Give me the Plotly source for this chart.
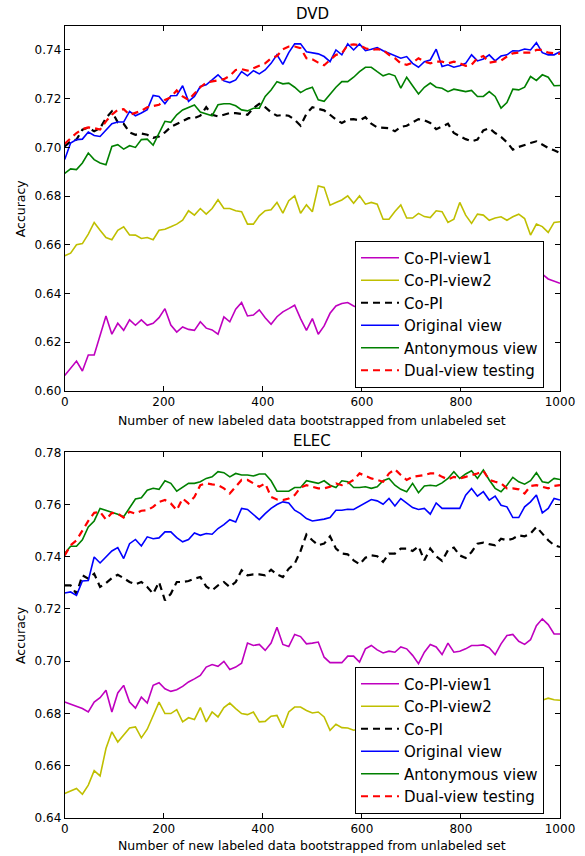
import plotly.graph_objects as go

W, H = 585, 856
x_vals = [round(i * 1000 / 84, 3) for i in range(85)]

series_names = ["Co-PI-view1", "Co-PI-view2", "Co-PI", "Original view", "Antonymous view", "Dual-view testing"]
x_ticks = [0, 200, 400, 600, 800, 1000]

dvd_view1 = [0.6064, 0.6093, 0.6123, 0.6082, 0.6148, 0.6148, 0.6226, 0.6308, 0.6233, 0.6278,
             0.6249, 0.6292, 0.6270, 0.6292, 0.6270, 0.6278, 0.6301, 0.6338, 0.6271, 0.6242,
             0.6263, 0.6253, 0.6249, 0.6284, 0.6258, 0.6251, 0.6233, 0.6304, 0.6284, 0.6336,
             0.6363, 0.6308, 0.6312, 0.6333, 0.6301, 0.6274, 0.6305, 0.6325, 0.6338, 0.6352,
             0.6297, 0.6249, 0.6297, 0.6233, 0.6267, 0.6319, 0.6349, 0.6359, 0.6363, 0.6349,
             0.634, 0.636, 0.633, 0.637, 0.635, 0.638, 0.636, 0.639, 0.637, 0.640,
             0.638, 0.641, 0.639, 0.637, 0.640, 0.642, 0.640, 0.643, 0.641, 0.639,
             0.642, 0.644, 0.642, 0.640, 0.643, 0.645, 0.643, 0.646, 0.644, 0.647,
             0.645, 0.648, 0.646, 0.6452, 0.6442]
dvd_view2 = [0.6555, 0.6566, 0.6600, 0.6605, 0.6644, 0.6692, 0.6660, 0.6630, 0.6621, 0.6660,
             0.6674, 0.6641, 0.6640, 0.6626, 0.6630, 0.6621, 0.6660, 0.6664, 0.6674, 0.6685,
             0.6701, 0.6740, 0.6722, 0.6749, 0.6726, 0.6749, 0.6785, 0.6749, 0.6749, 0.6740,
             0.6736, 0.6685, 0.6685, 0.6719, 0.6740, 0.6744, 0.6774, 0.6730, 0.6781, 0.6801,
             0.6730, 0.6764, 0.6736, 0.6842, 0.6836, 0.6763, 0.6774, 0.6784, 0.6801, 0.6771,
             0.6801, 0.6767, 0.6774, 0.6767, 0.6705, 0.6705, 0.6737, 0.6764, 0.6710, 0.6710,
             0.6729, 0.6716, 0.6712, 0.6740, 0.6736, 0.6692, 0.6705, 0.6774, 0.6722, 0.6688,
             0.6726, 0.6722, 0.6701, 0.6710, 0.6715, 0.6701, 0.6715, 0.6726, 0.6708, 0.6640,
             0.6685, 0.6675, 0.6651, 0.6692, 0.6695]
dvd_copi = [0.7004, 0.7025, 0.7032, 0.7073, 0.7082, 0.7066, 0.7079, 0.7120, 0.7148, 0.7103,
            0.7097, 0.7062, 0.7052, 0.7057, 0.7052, 0.7039, 0.7045, 0.7062, 0.7084, 0.7097,
            0.7107, 0.7120, 0.7120, 0.7130, 0.7165, 0.7134, 0.7127, 0.7134, 0.7141, 0.7141,
            0.7138, 0.7134, 0.7161, 0.7179, 0.7165, 0.7144, 0.7130, 0.7133, 0.7130, 0.7114,
            0.7089, 0.7138, 0.7165, 0.7157, 0.7152, 0.7134, 0.7114, 0.7100, 0.7114, 0.7116,
            0.7111, 0.7124, 0.7097, 0.7082, 0.7079, 0.7079, 0.7066, 0.7084, 0.7089, 0.7103,
            0.7116, 0.7111, 0.7100, 0.7075, 0.7086, 0.7097, 0.7059, 0.7045, 0.7034, 0.7025,
            0.7032, 0.7070, 0.7079, 0.7059, 0.7043, 0.7021, 0.6991, 0.7002, 0.7011, 0.7018,
            0.7025, 0.7011, 0.6998, 0.6988, 0.6977]
dvd_orig = [0.6950, 0.7018, 0.7032, 0.7034, 0.7063, 0.7049, 0.7045, 0.7073, 0.7097, 0.7104,
            0.7104, 0.7148, 0.7130, 0.7141, 0.7155, 0.7213, 0.7209, 0.7179, 0.7212, 0.7213,
            0.7253, 0.7189, 0.7209, 0.7250, 0.7257, 0.7277, 0.7298, 0.7273, 0.7266, 0.7277,
            0.7311, 0.7294, 0.7315, 0.7302, 0.7318, 0.7345, 0.7380, 0.7341, 0.7389, 0.7425,
            0.7425, 0.7393, 0.7389, 0.7384, 0.7373, 0.7352, 0.7400, 0.7380, 0.7425, 0.7400,
            0.7425, 0.7397, 0.7403, 0.7410, 0.7397, 0.7386, 0.7375, 0.7366, 0.7373, 0.7345,
            0.7329, 0.7352, 0.7359, 0.7403, 0.7332, 0.7339, 0.7329, 0.7335, 0.7345, 0.7380,
            0.7355, 0.7363, 0.7380, 0.7355, 0.7375, 0.7380, 0.7397, 0.7396, 0.7404, 0.7400,
            0.7430, 0.7389, 0.7380, 0.7380, 0.7393]
dvd_anto = [0.6893, 0.6912, 0.6909, 0.6936, 0.6977, 0.6950, 0.6936, 0.6929, 0.7004, 0.7011,
            0.6993, 0.7007, 0.7000, 0.7032, 0.7034, 0.7009, 0.7059, 0.7107, 0.7103, 0.7134,
            0.7154, 0.7164, 0.7174, 0.7145, 0.7137, 0.7130, 0.7175, 0.7179, 0.7179, 0.7171,
            0.7154, 0.7150, 0.7161, 0.7161, 0.7209, 0.7236, 0.7270, 0.7261, 0.7264, 0.7247,
            0.7225, 0.7239, 0.7247, 0.7195, 0.7189, 0.7219, 0.7247, 0.7270, 0.7270, 0.7288,
            0.7311, 0.7329, 0.7329, 0.7311, 0.7294, 0.7302, 0.7294, 0.7243, 0.7288, 0.7253,
            0.7219, 0.7247, 0.7264, 0.7247, 0.7243, 0.7229, 0.7239, 0.7234, 0.7229, 0.7234,
            0.7209, 0.7209, 0.7229, 0.7209, 0.7161, 0.7184, 0.7239, 0.7236, 0.7247, 0.7291,
            0.7275, 0.7298, 0.7288, 0.7253, 0.7254]
dvd_dual = [0.7015, 0.7039, 0.7059, 0.7075, 0.7082, 0.7079, 0.7073, 0.7107, 0.7134, 0.7154,
            0.7157, 0.7134, 0.7141, 0.7150, 0.7165, 0.7171, 0.7175, 0.7195, 0.7206, 0.7234,
            0.7209, 0.7195, 0.7220, 0.7247, 0.7266, 0.7270, 0.7273, 0.7280, 0.7294, 0.7318,
            0.7321, 0.7315, 0.7325, 0.7335, 0.7345, 0.7366, 0.7375, 0.7403, 0.7414, 0.7414,
            0.7407, 0.7366, 0.7362, 0.7348, 0.7337, 0.7359, 0.7380, 0.7386, 0.7420, 0.7423,
            0.7420, 0.7407, 0.7400, 0.7403, 0.7400, 0.7380, 0.7366, 0.7345, 0.7339, 0.7348,
            0.7366, 0.7352, 0.7345, 0.7352, 0.7352, 0.7345, 0.7352, 0.7345, 0.7335, 0.7339,
            0.7366, 0.7375, 0.7348, 0.7352, 0.7356, 0.7373, 0.7386, 0.7389, 0.7389, 0.7389,
            0.7400, 0.7400, 0.7389, 0.7386, 0.7384]

elec_view1 = [0.6843, 0.6834, 0.6824, 0.6818, 0.6805, 0.6843, 0.6860, 0.6888, 0.6805, 0.6878,
              0.6907, 0.6843, 0.6820, 0.6862, 0.6839, 0.6907, 0.6917, 0.6894, 0.6884, 0.6890,
              0.6903, 0.6920, 0.6932, 0.6945, 0.6977, 0.6987, 0.6980, 0.6999, 0.6968, 0.6977,
              0.6992, 0.7069, 0.7060, 0.7064, 0.7041, 0.7069, 0.7130, 0.7064, 0.7056, 0.7102,
              0.7094, 0.7066, 0.7069, 0.7073, 0.7015, 0.6994, 0.6994, 0.6994, 0.7019, 0.7019,
              0.6996, 0.7047, 0.7060, 0.7043, 0.7031, 0.7038, 0.7034, 0.7054, 0.7047, 0.7022,
              0.6990, 0.7034, 0.7064, 0.7054, 0.7025, 0.7069, 0.7034, 0.7038, 0.7047, 0.7060,
              0.7060, 0.7062, 0.7051, 0.7025, 0.7066, 0.7098, 0.7102, 0.7076, 0.7064, 0.7082,
              0.7136, 0.7162, 0.7140, 0.7104, 0.7104]
elec_view2 = [0.6493, 0.6503, 0.6512, 0.6490, 0.6525, 0.6580, 0.6560, 0.6665, 0.6729, 0.6690,
              0.6716, 0.6744, 0.6748, 0.6706, 0.6739, 0.6792, 0.6843, 0.6799, 0.6799, 0.6814,
              0.6767, 0.6783, 0.6776, 0.6822, 0.6767, 0.6805, 0.6786, 0.6822, 0.6839, 0.6818,
              0.6799, 0.6795, 0.6805, 0.6767, 0.6769, 0.6789, 0.6792, 0.6745, 0.6805, 0.6824,
              0.6824, 0.6811, 0.6801, 0.6805, 0.6786, 0.6735, 0.6758, 0.6745, 0.6744, 0.6735,
              0.6740, 0.6752, 0.6745, 0.6760, 0.6772, 0.6765, 0.6780, 0.6770, 0.6785, 0.6795,
              0.6780, 0.6790, 0.6805, 0.6798, 0.6810, 0.6800, 0.6815, 0.6825, 0.6812, 0.6820,
              0.6832, 0.6825, 0.6838, 0.6830, 0.6842, 0.6835, 0.6848, 0.6840, 0.6852, 0.6845,
              0.6855, 0.6850, 0.6858, 0.6852, 0.6850]
elec_copi = [0.7290, 0.7290, 0.7258, 0.7329, 0.7316, 0.7335, 0.7284, 0.7299, 0.7318, 0.7331,
             0.7318, 0.7303, 0.7294, 0.7303, 0.7284, 0.7258, 0.7303, 0.7233, 0.7258, 0.7303,
             0.7303, 0.7307, 0.7316, 0.7322, 0.7286, 0.7271, 0.7290, 0.7303, 0.7284, 0.7303,
             0.7348, 0.7329, 0.7332, 0.7332, 0.7329, 0.7350, 0.7332, 0.7322, 0.7354, 0.7373,
             0.7422, 0.7485, 0.7463, 0.7444, 0.7450, 0.7478, 0.7431, 0.7412, 0.7409, 0.7386,
             0.7371, 0.7396, 0.7405, 0.7402, 0.7380, 0.7412, 0.7412, 0.7431, 0.7431, 0.7422,
             0.7440, 0.7386, 0.7431, 0.7402, 0.7384, 0.7425, 0.7435, 0.7405, 0.7395, 0.7418,
             0.7450, 0.7454, 0.7448, 0.7444, 0.7469, 0.7463, 0.7469, 0.7482, 0.7478, 0.7489,
             0.7514, 0.7489, 0.7463, 0.7444, 0.7437]
elec_orig = [0.7261, 0.7265, 0.7252, 0.7307, 0.7309, 0.7399, 0.7376, 0.7399, 0.7422, 0.7435,
             0.7393, 0.7450, 0.7466, 0.7441, 0.7476, 0.7469, 0.7472, 0.7495, 0.7495, 0.7473,
             0.7457, 0.7466, 0.7491, 0.7482, 0.7489, 0.7486, 0.7508, 0.7523, 0.7542, 0.7533,
             0.7585, 0.7581, 0.7563, 0.7542, 0.7565, 0.7585, 0.7600, 0.7610, 0.7606, 0.7578,
             0.7565, 0.7546, 0.7537, 0.7540, 0.7544, 0.7550, 0.7578, 0.7578, 0.7582, 0.7581,
             0.7594, 0.7606, 0.7619, 0.7614, 0.7601, 0.7623, 0.7594, 0.7623, 0.7604, 0.7588,
             0.7581, 0.7585, 0.7563, 0.7606, 0.7585, 0.7585, 0.7585, 0.7585, 0.7636, 0.7661,
             0.7632, 0.7649, 0.7617, 0.7632, 0.7597, 0.7591, 0.7550, 0.7550, 0.7591, 0.7610,
             0.7636, 0.7568, 0.7585, 0.7623, 0.7617]
elec_anto = [0.7412, 0.7440, 0.7440, 0.7465, 0.7514, 0.7537, 0.7585, 0.7578, 0.7572, 0.7563,
             0.7553, 0.7585, 0.7621, 0.7626, 0.7655, 0.7662, 0.7658, 0.7691, 0.7681, 0.7651,
             0.7665, 0.7681, 0.7681, 0.7687, 0.7700, 0.7706, 0.7726, 0.7722, 0.7706, 0.7719,
             0.7713, 0.7713, 0.7709, 0.7717, 0.7717, 0.7691, 0.7651, 0.7651, 0.7651, 0.7665,
             0.7665, 0.7691, 0.7685, 0.7681, 0.7691, 0.7674, 0.7665, 0.7691, 0.7687, 0.7665,
             0.7665, 0.7668, 0.7662, 0.7668, 0.7691, 0.7700, 0.7674, 0.7658, 0.7649, 0.7681,
             0.7645, 0.7671, 0.7674, 0.7671, 0.7683, 0.7700, 0.7726, 0.7700, 0.7717, 0.7729,
             0.7700, 0.7732, 0.7694, 0.7662, 0.7649, 0.7674, 0.7704, 0.7687, 0.7678, 0.7691,
             0.7722, 0.7687, 0.7683, 0.7700, 0.7696]
elec_dual = [0.7405, 0.7444, 0.7463, 0.7501, 0.7537, 0.7568, 0.7572, 0.7542, 0.7568, 0.7565,
             0.7550, 0.7572, 0.7565, 0.7576, 0.7578, 0.7591, 0.7610, 0.7617, 0.7604, 0.7578,
             0.7623, 0.7604, 0.7629, 0.7674, 0.7681, 0.7677, 0.7674, 0.7662, 0.7642, 0.7668,
             0.7694, 0.7694, 0.7681, 0.7668, 0.7681, 0.7629, 0.7619, 0.7617, 0.7623, 0.7636,
             0.7665, 0.7674, 0.7668, 0.7662, 0.7662, 0.7668, 0.7681, 0.7674, 0.7681, 0.7694,
             0.7719, 0.7709, 0.7700, 0.7694, 0.7687, 0.7719, 0.7735, 0.7713, 0.7694, 0.7706,
             0.7709, 0.7713, 0.7719, 0.7719, 0.7706, 0.7696, 0.7706, 0.7700, 0.7706, 0.7713,
             0.7719, 0.7729, 0.7694, 0.7687, 0.7681, 0.7662, 0.7662, 0.7658, 0.7642, 0.7671,
             0.7674, 0.7668, 0.7662, 0.7671, 0.7674]

colors = ["#BF00BF", "#BFBF00", "#000000", "#0000FF", "#008000", "#FF0000"]
dashes = ["solid", "solid", "7px,5px", "solid", "solid", "7px,5px"]
widths = [1.6, 1.6, 2.2, 1.6, 1.6, 2.2]

FONT = "DejaVu Sans"
fig = go.Figure()

panels = [
    ("DVD", [dvd_view1, dvd_view2, dvd_copi, dvd_orig, dvd_anto, dvd_dual], "x", "y", "legend"),
    ("ELEC", [elec_view1, elec_view2, elec_copi, elec_orig, elec_anto, elec_dual], "x2", "y2", "legend2"),
]
for title, data, xa, ya, lg in panels:
    for name, ys, c, d, w in zip(series_names, data, colors, dashes, widths):
        fig.add_trace(go.Scatter(x=x_vals, y=ys, mode="lines", name=name,
                                 line=dict(color=c, dash=d, width=w),
                                 xaxis=xa, yaxis=ya, legend=lg))

def px_x(p):
    return p / W

def px_y(p):
    return (H - p) / H

x_dom = [px_x(64.7), px_x(560)]
axis_common = dict(showline=True, linecolor="black", linewidth=1, mirror="allticks",
                   ticks="inside", ticklen=5, tickwidth=1, tickcolor="black",
                   showgrid=False, zeroline=False, automargin=False,
                   tickfont=dict(family=FONT, size=12, color="black"))

legend_common = dict(xanchor="left", yanchor="top", bgcolor="white", bordercolor="black",
                     borderwidth=1, itemwidth=38, traceorder="normal",
                     font=dict(family=FONT, size=15, color="black"))

fig.update_layout(
    width=W, height=H,
    margin=dict(l=0, r=0, t=0, b=0, autoexpand=False),
    paper_bgcolor="white", plot_bgcolor="white",
    xaxis=dict(domain=x_dom, range=[0, 1000], tickvals=x_ticks, anchor="y", **axis_common),
    yaxis=dict(domain=[px_y(391), px_y(25.6)], range=[0.60, 0.75], tick0=0.60, dtick=0.02,
               tickformat=".2f", anchor="x", **axis_common),
    xaxis2=dict(domain=x_dom, range=[0, 1000], tickvals=x_ticks, anchor="y2", **axis_common),
    yaxis2=dict(domain=[px_y(817.7), px_y(452.3)], range=[0.64, 0.78], tick0=0.64, dtick=0.02,
                tickformat=".2f", anchor="x2", **axis_common),
    legend=dict(x=px_x(355), y=px_y(240.5), **legend_common),
    legend2=dict(x=px_x(355), y=px_y(666.5), **legend_common),
    font=dict(family=FONT, color="black"),
)

ann = []
for title, ty, ymid, xl_y in [("DVD", 14.5, 208.3, 420), ("ELEC", 441, 635, 845)]:
    ann.append(dict(text=title, x=px_x(312.3), y=px_y(ty), xref="paper", yref="paper",
                    showarrow=False, xanchor="center", yanchor="middle",
                    font=dict(family=FONT, size=15, color="black")))
    ann.append(dict(text="Accuracy", x=px_x(20), y=px_y(ymid), xref="paper", yref="paper",
                    showarrow=False, xanchor="center", yanchor="middle", textangle=-90,
                    font=dict(family=FONT, size=12.5, color="black")))
    ann.append(dict(text="Number of new labeled data bootstrapped from unlabeled set",
                    x=px_x(312.3), y=px_y(xl_y), xref="paper", yref="paper",
                    showarrow=False, xanchor="center", yanchor="middle",
                    font=dict(family=FONT, size=12.5, color="black")))
fig.update_layout(annotations=ann)

fig.write_html("out.html", config={"displayModeBar": False},
               post_script="document.body.style.margin='0px';document.body.style.overflow='hidden';")
